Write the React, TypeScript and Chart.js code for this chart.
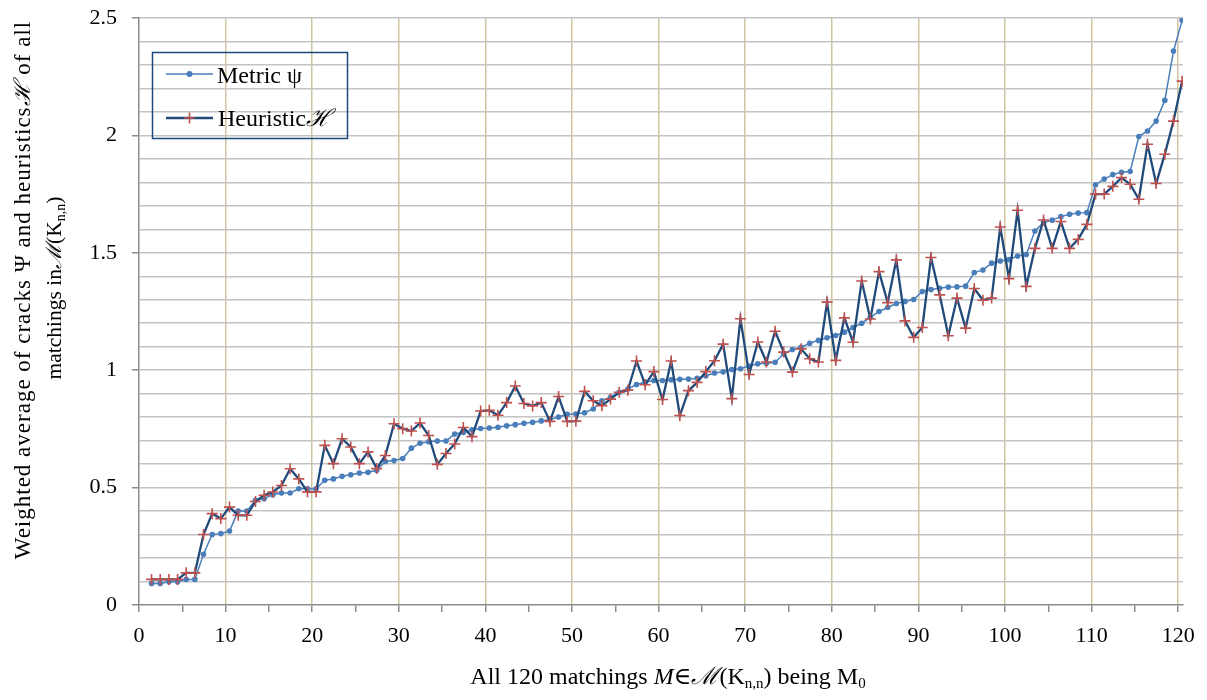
import React, { useEffect, useRef } from 'react';
import { Chart, registerables } from 'chart.js';

Chart.register(...registerables);

// ---- Data ----
const matchingCount = 120;
const metricPsi = [
  0.092, 0.092, 0.099, 0.099, 0.109, 0.109, 0.216, 0.300, 0.304, 0.315,
  0.400, 0.400, 0.446, 0.453, 0.470, 0.477, 0.477, 0.495, 0.495, 0.495,
  0.531, 0.537, 0.548, 0.555, 0.562, 0.565, 0.574, 0.611, 0.615, 0.624,
  0.668, 0.689, 0.695, 0.698, 0.698, 0.728, 0.735, 0.746, 0.752, 0.754,
  0.757, 0.763, 0.768, 0.774, 0.778, 0.784, 0.790, 0.801, 0.812, 0.813,
  0.819, 0.835, 0.870, 0.885, 0.906, 0.920, 0.939, 0.949, 0.956, 0.956,
  0.959, 0.961, 0.962, 0.966, 0.976, 0.988, 0.993, 1.003, 1.006, 1.018,
  1.027, 1.030, 1.034, 1.070, 1.088, 1.098, 1.115, 1.127, 1.138, 1.148,
  1.162, 1.182, 1.200, 1.225, 1.250, 1.267, 1.284, 1.293, 1.301, 1.335,
  1.344, 1.349, 1.354, 1.355, 1.358, 1.416, 1.427, 1.456, 1.465, 1.471,
  1.486, 1.493, 1.593, 1.629, 1.639, 1.654, 1.664, 1.669, 1.671, 1.790,
  1.814, 1.833, 1.843, 1.846, 1.995, 2.019, 2.061, 2.149, 2.359, 2.490,
];
const heuristicH = [
  0.109, 0.109, 0.109, 0.109, 0.137, 0.137, 0.300, 0.389, 0.368, 0.417,
  0.382, 0.382, 0.441, 0.467, 0.481, 0.509, 0.580, 0.537, 0.482, 0.482,
  0.680, 0.602, 0.708, 0.673, 0.602, 0.652, 0.581, 0.637, 0.772, 0.751,
  0.741, 0.775, 0.722, 0.599, 0.645, 0.686, 0.756, 0.717, 0.826, 0.829,
  0.808, 0.862, 0.933, 0.858, 0.848, 0.862, 0.782, 0.888, 0.782, 0.783,
  0.910, 0.870, 0.849, 0.877, 0.906, 0.915, 1.039, 0.938, 0.994, 0.875,
  1.039, 0.807, 0.913, 0.948, 0.994, 1.040, 1.111, 0.879, 1.219, 0.982,
  1.120, 1.035, 1.166, 1.077, 0.992, 1.091, 1.049, 1.035, 1.290, 1.042,
  1.223, 1.119, 1.380, 1.218, 1.420, 1.288, 1.470, 1.210, 1.140, 1.182,
  1.480, 1.321, 1.147, 1.307, 1.179, 1.348, 1.298, 1.307, 1.610, 1.390,
  1.681, 1.357, 1.519, 1.640, 1.519, 1.633, 1.519, 1.557, 1.621, 1.750,
  1.750, 1.783, 1.820, 1.792, 1.728, 1.962, 1.795, 1.920, 2.061, 2.231,
];
const xTickValues = [0, 5, 10, 15, 20, 25, 30, 35, 40, 45, 50, 55, 60, 65, 70, 75, 80, 85, 90, 95, 100, 105, 110, 115, 120];
const xTickLabels = ['0', '10', '20', '30', '40', '50', '60', '70', '80', '90', '100', '110', '120'];
const yTickLabels = ['0', '0.5', '1', '1.5', '2', '2.5'];
const yGridStep = 0.1;
const yMax = 2.5;
const pointOffset = 0.45;

// ---- Styles ----
const SERIF = '"Liberation Serif", "Times New Roman", "DejaVu Serif", serif';
const METRIC = '#4A7EBB';
const HEUR_LINE = '#1F4A7A';
const HEUR_MARK = '#C0504D';
const GRID_GRAY = '#C3C3C3';
const GRID_TAN = '#CFC6A0';
const AXIS = '#8C8C8C';

type Seg = { t: string; size: number; italic?: boolean; dy?: number };

function drawRich(ctx: CanvasRenderingContext2D, segs: Seg[], x: number, y: number, align: 'center' | 'left', spacing = 0) {
  const anyCtx = ctx as any;
  const prevSpacing = anyCtx.letterSpacing;
  if (spacing) anyCtx.letterSpacing = `${spacing}px`;
  const fontOf = (s: Seg) => `${s.italic ? 'italic ' : ''}${s.size}px ${SERIF}`;
  const widths = segs.map((s) => {
    ctx.font = fontOf(s);
    return ctx.measureText(s.t).width;
  });
  const total = widths.reduce((a, b) => a + b, 0);
  let cx = align === 'center' ? x - total / 2 : x;
  ctx.textAlign = 'left';
  ctx.textBaseline = 'alphabetic';
  segs.forEach((s, i) => {
    ctx.font = fontOf(s);
    ctx.fillText(s.t, cx, y + (s.dy || 0));
    cx += widths[i];
  });
  if (spacing) anyCtx.letterSpacing = prevSpacing || '0px';
}

const annotations = {
  id: 'annotations',
  afterDraw(chart: any) {
    const ctx: CanvasRenderingContext2D = chart.ctx;
    ctx.save();
    ctx.fillStyle = '#000';
    // Y title (rotated, two lines)
    ctx.save();
    ctx.translate(30, 290);
    ctx.rotate(-Math.PI / 2);
    drawRich(ctx, [
      { t: 'Weighted average of cracks \u03A8 and heuristics', size: 23 },
      { t: '\u210B', size: 23, italic: true },
      { t: ' of all', size: 23 },
    ], 0, 0, 'center', 1);
    ctx.restore();
    ctx.save();
    ctx.translate(61, 288);
    ctx.rotate(-Math.PI / 2);
    drawRich(ctx, [
      { t: 'matchings in', size: 21.5 },
      { t: '\u2133', size: 21.5, italic: true },
      { t: '(K', size: 21.5 },
      { t: 'n,n', size: 14, dy: 4 },
      { t: ')', size: 21.5 },
    ], 0, 0, 'center');
    ctx.restore();

    // X title
    drawRich(ctx, [
      { t: 'All 120 matchings ', size: 24 },
      { t: 'M', size: 24, italic: true },
      { t: '\u2208', size: 24 },
      { t: '\u2133', size: 24, italic: true },
      { t: '(K', size: 24 },
      { t: 'n,n', size: 15, dy: 4 },
      { t: ') being M', size: 24 },
      { t: '0', size: 15, dy: 4 },
    ], 668, 684, 'center');

    // Legend
    ctx.strokeStyle = '#1F497D';
    ctx.lineWidth = 1.5;
    ctx.strokeRect(152.5, 52.5, 195, 86);
    // Metric row
    ctx.strokeStyle = METRIC;
    ctx.lineWidth = 1.5;
    ctx.beginPath();
    ctx.moveTo(166, 74);
    ctx.lineTo(213, 74);
    ctx.stroke();
    ctx.fillStyle = METRIC;
    ctx.beginPath();
    ctx.arc(189.5, 74, 3, 0, Math.PI * 2);
    ctx.fill();
    ctx.fillStyle = '#000';
    drawRich(ctx, [{ t: 'Metric \u03C8', size: 24 }], 217, 82.5, 'left');
    // Heuristic row
    ctx.strokeStyle = HEUR_LINE;
    ctx.lineWidth = 2.3;
    ctx.beginPath();
    ctx.moveTo(166, 118);
    ctx.lineTo(213, 118);
    ctx.stroke();
    ctx.strokeStyle = HEUR_MARK;
    ctx.lineWidth = 1.6;
    ctx.beginPath();
    ctx.moveTo(184, 118);
    ctx.lineTo(195, 118);
    ctx.moveTo(189.5, 112.5);
    ctx.lineTo(189.5, 123.5);
    ctx.stroke();
    ctx.fillStyle = '#000';
    drawRich(ctx, [
      { t: 'Heuristic', size: 24 },
      { t: '\u210B', size: 24, italic: true },
    ], 218, 126, 'left');
    ctx.restore();
  },
};

export default function App() {
  const ref = useRef<HTMLCanvasElement>(null);
  useEffect(() => {
    const canvas = ref.current!;
    const xs = Array.from({ length: matchingCount }, (_, i) => i + 1 + pointOffset);
    const yGrid: number[] = [];
    for (let k = 0; k * yGridStep <= yMax + 1e-9; k++) yGrid.push(Math.round(k * yGridStep * 10) / 10);

    const chart = new Chart(canvas, {
      type: 'line',
      data: {
        datasets: [
          {
            label: 'Heuristic H',
            data: heuristicH.map((v, i) => ({ x: xs[i], y: v })),
            borderColor: HEUR_LINE,
            borderWidth: 2.3,
            pointStyle: 'cross',
            pointRadius: 5.5,
            pointBorderColor: HEUR_MARK,
            pointBackgroundColor: HEUR_MARK,
            pointBorderWidth: 1.6,
            tension: 0,
            order: 0,
          },
          {
            label: 'Metric psi',
            data: metricPsi.map((v, i) => ({ x: xs[i], y: v })),
            borderColor: METRIC,
            borderWidth: 1.5,
            pointStyle: 'circle',
            pointRadius: 2.8,
            pointBackgroundColor: METRIC,
            pointBorderWidth: 0,
            tension: 0,
            order: 1,
          },
        ],
      } as any,
      options: {
        responsive: false,
        animation: false,
        devicePixelRatio: 1,
        layout: { padding: { top: 18, right: 24, left: 0, bottom: 0 } },
        plugins: {
          legend: { display: false },
          tooltip: { enabled: false },
          title: { display: false },
        },
        scales: {
          x: {
            type: 'linear',
            min: 0,
            max: 120.55,
            afterBuildTicks: (s: any) => {
              s.ticks = xTickValues.map((v) => ({ value: v }));
            },
            afterFit: (s: any) => {
              s.height = 95;
              s.paddingLeft = 0;
              s.paddingRight = 0;
            },
            ticks: {
              autoSkip: false,
              maxRotation: 0,
              includeBounds: false,
              callback: (v: any) => (xTickLabels.includes(String(v)) ? String(v) : ''),
              font: { family: SERIF, size: 22 },
              color: '#000',
              padding: 11,
            },
            grid: {
              color: (c: any) =>
                c.tick && c.tick.value % 10 === 0 && c.tick.value !== 0 ? GRID_TAN : 'rgba(0,0,0,0)',
              lineWidth: 1.5,
              tickColor: AXIS,
              tickLength: 7,
            },
            border: { color: AXIS, width: 1.5 },
          },
          y: {
            type: 'linear',
            min: 0,
            max: yMax,
            afterBuildTicks: (s: any) => {
              s.ticks = yGrid.map((v) => ({ value: v }));
            },
            afterFit: (s: any) => {
              s.width = 139;
              s.paddingTop = 0;
              s.paddingBottom = 0;
            },
            ticks: {
              autoSkip: false,
              callback: (v: any) => {
                const r = Math.round(v * 10);
                return r % 5 === 0 ? yTickLabels[r / 5] : '';
              },
              font: { family: SERIF, size: 22 },
              color: '#000',
              padding: 15,
            },
            grid: {
              color: (c: any) => (c.tick && c.tick.value === 0 ? 'rgba(0,0,0,0)' : GRID_GRAY),
              lineWidth: 1.5,
              tickColor: (c: any) =>
                c.tick && Math.round(c.tick.value * 10) % 5 === 0 ? AXIS : 'rgba(0,0,0,0)',
              tickLength: 7,
            },
            border: { color: AXIS, width: 1.5 },
          },
        },
      } as any,
      plugins: [annotations],
    });
    return () => chart.destroy();
  }, []);
  return (
    <div style={{ position: 'absolute', left: 0, top: 0, width: 1207, height: 700 }}>
      <canvas ref={ref} width={1207} height={700} style={{ display: 'block' }} />
    </div>
  );
}
